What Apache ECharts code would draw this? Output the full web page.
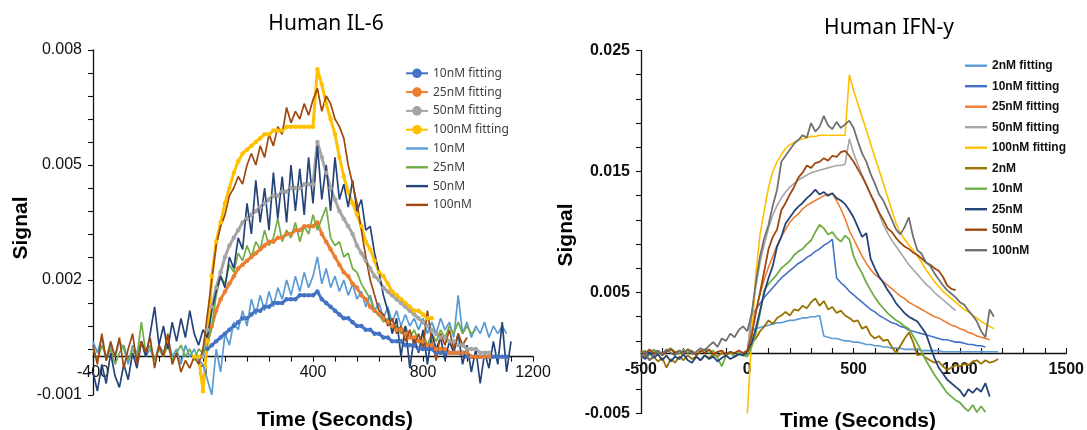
<!DOCTYPE html>
<html><head><meta charset="utf-8">
<script src="https://cdn.jsdelivr.net/npm/echarts@6/dist/echarts.min.js"></script>
<style>
html,body{margin:0;padding:0;background:#fff;width:1087px;height:430px;overflow:hidden}
#l{position:absolute;left:0;top:0;width:560px;height:430px}
#r{position:absolute;left:540px;top:0;width:547px;height:430px}
</style>
</head><body><div id="l"></div><div id="r"></div>
<script>
// ---------------- LEFT: Human IL-6 ----------------
const tL = [-400,-384,-368,-352,-336,-320,-304,-288,-272,-256,-240,-224,-208,-192,-176,-160,-144,-128,-112,-96,-80,-64,-48,-32,-16,0,16,32,48,64,80,96,112,128,144,160,176,192,208,224,240,256,272,288,304,320,336,352,368,384,400,416,432,448,464,480,496,512,528,544,560,576,592,608,624,640,656,672,688,704,720,736,752,768,784,800,816,832,848,864,880,896,912,928,944,960,976,992,1008,1024,1040,1056,1072,1088,1104,1120];
const xTicksL = [-400, 0, 400, 800, 1200];
const yTicksL = [-0.001, 0.002, 0.005, 0.008];
const namesFitL = ['10nM fitting','25nM fitting','50nM fitting','100nM fitting'];
const namesRawL = ['10nM','25nM','50nM','100nM'];

// fittings (start at t=0 except 100nM which starts at t=-32)
const fit10L = [0.0000,0.0002,0.0003,0.0004,0.0005,0.0006,0.0007,0.0008,0.0009,0.0010,
 0.0010,0.0011,0.0012,0.0012,0.0013,0.0013,0.0014,0.0014,0.0014,0.0015,
 0.0015,0.0015,0.0016,0.0016,0.0016,0.0016,0.0017,0.0015,0.0014,0.0013,
 0.0012,0.0011,0.0010,0.0010,0.0009,0.0008,0.0008,0.0007,0.0007,0.0006,
 0.0006,0.0005,0.0005,0.0004,0.0004,0.0004,0.0003,0.0003,0.0003,0.0002,
 0.0002,0.0002,0.0002,0.0001,0.0001,0.0001,0.0001,0.0001,0.0001,0.0001,
 0.0000,0.0000,0.0000,0.0000,0.0000,0.0000,0.0000,0.0000,0.0000,0.0000];
const fit25L = [0.0000,0.0004,0.0008,0.0012,0.0015,0.0017,0.0019,0.0021,0.0023,0.0024,
 0.0025,0.0026,0.0027,0.0028,0.0029,0.0030,0.0030,0.0031,0.0031,0.0032,
 0.0032,0.0033,0.0033,0.0034,0.0034,0.0034,0.0035,0.0032,0.0030,0.0028,
 0.0026,0.0024,0.0022,0.0021,0.0019,0.0018,0.0016,0.0015,0.0013,0.0012,
 0.0011,0.0010,0.0009,0.0008,0.0007,0.0007,0.0006,0.0005,0.0005,0.0004,
 0.0004,0.0003,0.0003,0.0002,0.0002,0.0002,0.0001,0.0001,0.0001,0.0001,
 0.0001,0.0000,0.0000,0.0000,0.0000,0.0000];
const fit50L = [0.0000,0.0007,0.0013,0.0018,0.0022,0.0026,0.0029,0.0031,0.0033,0.0035,
 0.0036,0.0037,0.0038,0.0039,0.0040,0.0041,0.0042,0.0042,0.0043,0.0043,
 0.0044,0.0044,0.0044,0.0045,0.0045,0.0045,0.0056,0.0052,0.0048,0.0044,
 0.0041,0.0038,0.0036,0.0034,0.0032,0.0029,0.0027,0.0025,0.0023,0.0021,
 0.0020,0.0018,0.0017,0.0016,0.0015,0.0014,0.0013,0.0012,0.0011,0.0010,
 0.0009,0.0008,0.0007,0.0006,0.0005,0.0005,0.0004,0.0004,0.0003,0.0003,
 0.0002,0.0002,0.0002,0.0001,0.0001,0.0001];
const fit100L = [0,0,
 -0.0009,0.0004,0.0021,0.0030,0.0035,0.0040,0.0044,0.0048,0.0051,0.0053,
 0.0054,0.0055,0.0056,0.0057,0.0058,0.0058,0.0059,0.0059,0.0059,0.0060,
 0.0060,0.0060,0.0060,0.0060,0.0060,0.0060,0.0075,0.0071,0.0066,0.0062,
 0.0058,0.0052,0.0047,0.0043,0.0040,0.0037,0.0034,0.0030,0.0028,0.0025,
 0.0022,0.0021,0.0019,0.0017,0.0016,0.0015,0.0014,0.0013,0.0012,0.0012,
 0.0011,0.0010,0.0010];
// raw traces (start at t=-400)
const raw10L = [0.0004,0.0001,0.0005,-0.0001,0.0003,0.0000,0.0004,0.0002,-0.0002,0.0003,0.0001,0.0004,0.0000,0.0002,-0.0001,0.0003,0.0001,0.0005,0.0000,0.0002,-0.0002,0.0003,0.0000,0.0002,-0.0001,
 -0.0002,-0.0006,-0.0010,0.0002,-0.0004,0.0006,0.0003,0.0009,0.0007,0.0012,
 0.0008,0.0015,0.0011,0.0016,0.0012,0.0017,0.0013,0.0018,0.0015,0.0020,
 0.0016,0.0021,0.0017,0.0022,0.0018,0.0021,0.0026,0.0019,0.0023,0.0018,
 0.0021,0.0017,0.0020,0.0016,0.0019,0.0015,0.0017,0.0013,0.0016,0.0012,
 0.0014,0.0010,0.0013,0.0009,0.0012,0.0008,0.0011,0.0008,0.0010,0.0007,
 0.0010,0.0006,0.0009,0.0006,0.0010,0.0007,0.0009,0.0005,0.0016,0.0006,
 0.0009,0.0005,0.0008,0.0006,0.0009,0.0005,0.0008,0.0006,0.0008,0.0006];
const raw25L = [0.0002,-0.0001,0.0003,0.0000,0.0002,-0.0002,0.0001,0.0003,-0.0001,0.0002,0.0000,0.0009,0.0001,0.0003,-0.0001,0.0002,0.0000,0.0003,-0.0001,0.0001,0.0003,0.0000,0.0002,-0.0001,0.0002,
 0.0001,0.0003,0.0008,0.0016,0.0021,0.0019,0.0024,0.0022,0.0027,0.0025,
 0.0029,0.0026,0.0030,0.0028,0.0033,0.0029,0.0031,0.0036,0.0030,0.0033,
 0.0031,0.0035,0.0030,0.0034,0.0032,0.0037,0.0033,0.0036,0.0039,0.0031,
 0.0029,0.0030,0.0026,0.0027,0.0023,0.0022,0.0019,0.0017,0.0015,0.0012,
 0.0011,0.0009,0.0010,0.0007,0.0008,0.0006,0.0008,0.0005,0.0007,0.0004,
 0.0006,0.0003,0.0006,0.0004,0.0007,0.0005,0.0008,0.0006,0.0009,0.0006,
 0.0008,0.0006,0.0007];
const raw50L = [-0.0004,-0.0009,-0.0002,-0.0007,0.0001,-0.0005,-0.0008,-0.0002,-0.0006,0.0001,-0.0003,0.0004,0.0000,0.0006,0.0013,0.0003,0.0008,0.0002,0.0009,0.0004,0.0010,0.0005,0.0012,0.0006,0.0003,
 0.0007,0.0005,0.0012,0.0017,0.0021,0.0018,0.0026,0.0023,0.0031,0.0028,
 0.0040,0.0032,0.0046,0.0035,0.0044,0.0033,0.0048,0.0036,0.0047,0.0035,
 0.0050,0.0038,0.0049,0.0037,0.0052,0.0040,0.0055,0.0041,0.0050,0.0038,
 0.0052,0.0041,0.0045,0.0039,0.0046,0.0038,0.0041,0.0033,0.0034,0.0027,
 0.0022,0.0016,0.0012,0.0006,0.0010,0.0000,0.0008,-0.0003,0.0005,0.0001,
 0.0007,-0.0002,0.0006,0.0002,0.0005,-0.0001,0.0004,0.0001,0.0006,-0.0002,
 0.0003,-0.0004,0.0002,-0.0007,0.0001,-0.0003,0.0004,-0.0002,0.0009,-0.0004,0.0004];
const raw100L = [0.0003,-0.0002,0.0006,-0.0001,0.0004,0.0000,0.0005,-0.0003,0.0002,0.0006,-0.0002,0.0004,0.0001,0.0005,-0.0003,0.0003,0.0000,0.0006,-0.0002,0.0001,-0.0004,-0.0001,-0.0003,0.0000,-0.0002,
 0.0002,0.0011,0.0020,0.0029,0.0034,0.0037,0.0042,0.0044,0.0047,0.0045,
 0.0050,0.0053,0.0050,0.0055,0.0052,0.0058,0.0055,0.0060,0.0058,0.0065,
 0.0061,0.0064,0.0062,0.0066,0.0063,0.0067,0.0070,0.0064,0.0068,0.0066,
 0.0062,0.0060,0.0057,0.0050,0.0045,0.0040,0.0033,0.0026,0.0020,0.0016,
 0.0012,0.0011,0.0008,0.0010,0.0006,0.0008,0.0004,0.0007,0.0003,0.0006,
 0.0002,0.0012,0.0004,-0.0001,0.0006,0.0003,0.0007,0.0002,0.0006,0.0003,0.0005];

// ---------------- RIGHT: Human IFN-y ----------------
const tR = [-500,-480,-460,-440,-420,-400,-380,-360,-340,-320,-300,-280,-260,-240,-220,-200,-180,-160,-140,-120,-100,-80,-60,-40,-20,0,20,40,60,80,100,120,140,160,180,200,220,240,260,280,300,320,340,360,380,400,420,440,460,480,500,520,540,560,580,600,620,640,660,680,700,720,740,760,780,800,820,840,860,880,900,920,940,960,980,1000,1020,1040,1060,1080,1100,1120,1140,1160,1180,1200];
const xTicksR = [-500, 0, 500, 1000, 1500];
const yTicksR = [-0.005, 0.005, 0.015, 0.025];
const namesR = ['2nM fitting','10nM fitting','25nM fitting','50nM fitting','100nM fitting','2nM','10nM','25nM','50nM','100nM'];
// fittings (start at t=0)
const fit2R = [0.0000,0.0019,0.0020,0.0021,0.0022,0.0023,0.0024,0.0025,0.0025,0.0026,
 0.0027,0.0027,0.0028,0.0029,0.0029,0.0030,0.0030,0.0031,0.0014,0.0013,
 0.0012,0.0012,0.0011,0.0010,0.0010,0.0009,0.0009,0.0008,0.0007,0.0007,
 0.0006,0.0006,0.0005,0.0005,0.0004,0.0004,0.0004,0.0003,0.0003,0.0003,
 0.0003,0.0002,0.0002,0.0002,0.0002,0.0002,0.0001,0.0001,0.0001,0.0001,
 0.0001,0.0001,0.0001,0.0001,0.0001,0.0001,0.0001,0.0001,0.0001,0.0001];
const fit10R = [0.0000,0.0031,0.0036,0.0041,0.0046,0.0050,0.0054,0.0058,0.0062,0.0065,
 0.0068,0.0071,0.0074,0.0076,0.0079,0.0081,0.0084,0.0086,0.0089,0.0091,
 0.0094,0.0062,0.0058,0.0055,0.0051,0.0048,0.0045,0.0042,0.0039,0.0036,
 0.0034,0.0031,0.0029,0.0027,0.0025,0.0024,0.0022,0.0021,0.0019,0.0018,
 0.0017,0.0016,0.0015,0.0014,0.0013,0.0012,0.0011,0.0011,0.0010,0.0009,
 0.0009,0.0008,0.0007,0.0007,0.0006,0.0006,0.0005];
const fit25R = [0.0000,0.0019,0.0035,0.0049,0.0061,0.0071,0.0080,0.0089,0.0096,0.0102,
 0.0108,0.0112,0.0115,0.0119,0.0122,0.0124,0.0126,0.0128,0.0130,0.0131,
 0.0132,0.0126,0.0119,0.0111,0.0101,0.0094,0.0087,0.0080,0.0074,0.0069,
 0.0065,0.0062,0.0059,0.0056,0.0053,0.0050,0.0047,0.0045,0.0042,0.0040,
 0.0038,0.0036,0.0034,0.0032,0.0030,0.0029,0.0027,0.0025,0.0023,0.0022,
 0.0020,0.0019,0.0017,0.0016,0.0014,0.0013,0.0012,0.0011];
const fit50R = [0.0000,0.0030,0.0055,0.0075,0.0090,0.0103,0.0114,0.0122,0.0128,0.0133,
 0.0137,0.0140,0.0143,0.0145,0.0147,0.0149,0.0150,0.0151,0.0152,0.0153,
 0.0154,0.0155,0.0155,0.0156,0.0177,0.0165,0.0156,0.0147,0.0139,0.0131,
 0.0123,0.0115,0.0106,0.0099,0.0093,0.0088,0.0083,0.0078,0.0073,0.0069,
 0.0065,0.0061,0.0057,0.0054,0.0050,0.0047,0.0044,0.0041,0.0038,0.0035];
const fit100R = [-0.0050,0.0010,0.0065,0.0098,0.0118,0.0137,0.0150,0.0158,0.0164,0.0169,
 0.0172,0.0174,0.0176,0.0177,0.0178,0.0179,0.0179,0.0180,0.0180,0.0180,
 0.0180,0.0180,0.0180,0.0180,0.0230,0.0217,0.0206,0.0195,0.0184,0.0173,
 0.0162,0.0151,0.0140,0.0129,0.0118,0.0107,0.0099,0.0094,0.0089,0.0085,
 0.0080,0.0075,0.0069,0.0064,0.0059,0.0055,0.0051,0.0048,0.0045,0.0042,
 0.0039,0.0036,0.0034,0.0031,0.0029,0.0026,0.0024,0.0022,0.0020];
// raw traces (start at t=-500)
const raw2R = [-0.0004,-0.0002,-0.0006,-0.0003,-0.0007,-0.0004,-0.0012,-0.0005,-0.0008,-0.0003,-0.0006,-0.0002,-0.0005,-0.0003,-0.0006,-0.0002,-0.0004,-0.0001,-0.0003,0.0000,-0.0002,0.0001,-0.0003,-0.0001,0.0000,
 -0.0002,0.0008,0.0012,0.0018,0.0022,0.0027,0.0024,0.0029,0.0031,0.0034,
 0.0031,0.0036,0.0035,0.0039,0.0037,0.0042,0.0045,0.0039,0.0043,0.0036,
 0.0038,0.0033,0.0035,0.0031,0.0029,0.0026,0.0027,0.0020,0.0022,0.0015,
 0.0012,0.0014,0.0010,0.0011,0.0005,0.0000,0.0006,0.0012,0.0017,0.0009,
 -0.0002,-0.0001,-0.0004,-0.0006,-0.0008,-0.0007,-0.0011,-0.0014,-0.0012,-0.0010,
 -0.0011,-0.0009,-0.0010,-0.0007,-0.0006,-0.0009,-0.0006,-0.0008,-0.0007,-0.0005];
const raw10R = [0.0000,0.0002,-0.0002,0.0003,0.0000,-0.0001,0.0002,0.0004,0.0001,-0.0001,0.0003,0.0000,0.0002,-0.0002,0.0001,0.0003,0.0000,0.0002,-0.0004,-0.0011,-0.0002,0.0001,-0.0003,0.0000,-0.0002,
 -0.0003,0.0005,0.0016,0.0033,0.0052,0.0057,0.0061,0.0065,0.0070,0.0073,
 0.0076,0.0081,0.0084,0.0086,0.0090,0.0093,0.0100,0.0106,0.0103,0.0098,
 0.0100,0.0095,0.0092,0.0097,0.0094,0.0080,0.0072,0.0066,0.0058,0.0052,
 0.0046,0.0041,0.0037,0.0033,0.0030,0.0027,0.0025,0.0022,0.0020,0.0014,
 0.0008,0.0001,-0.0006,-0.0012,-0.0018,-0.0023,-0.0028,-0.0033,-0.0036,-0.0039,
 -0.0041,-0.0045,-0.0048,-0.0043,-0.0049,-0.0044,-0.0049];
const raw25R = [-0.0002,-0.0005,0.0001,-0.0004,-0.0001,-0.0006,-0.0002,-0.0007,-0.0003,-0.0005,-0.0001,-0.0006,-0.0008,-0.0003,-0.0006,-0.0002,-0.0005,-0.0003,-0.0007,-0.0004,-0.0002,-0.0005,-0.0003,-0.0001,-0.0002,
 0.0002,0.0008,0.0020,0.0035,0.0050,0.0062,0.0072,0.0088,0.0096,0.0107,
 0.0112,0.0117,0.0121,0.0124,0.0128,0.0131,0.0135,0.0131,0.0133,0.0130,
 0.0132,0.0128,0.0126,0.0123,0.0118,0.0112,0.0104,0.0096,0.0099,0.0078,
 0.0070,0.0063,0.0058,0.0052,0.0047,0.0041,0.0037,0.0033,0.0030,0.0028,
 0.0026,0.0021,0.0016,0.0006,-0.0004,-0.0012,-0.0017,-0.0022,-0.0025,-0.0028,
 -0.0031,-0.0036,-0.0030,-0.0033,-0.0029,-0.0032,-0.0025,-0.0036];
const raw50R = [0.0002,-0.0001,0.0003,0.0000,0.0002,-0.0002,0.0001,0.0003,0.0000,0.0002,-0.0001,0.0003,0.0001,-0.0002,0.0002,0.0000,0.0003,-0.0001,0.0001,0.0002,-0.0001,0.0001,0.0000,0.0002,0.0000,
 0.0002,0.0014,0.0033,0.0050,0.0068,0.0086,0.0096,0.0102,0.0118,0.0124,
 0.0131,0.0137,0.0145,0.0149,0.0155,0.0153,0.0157,0.0158,0.0161,0.0159,
 0.0163,0.0162,0.0166,0.0167,0.0163,0.0158,0.0152,0.0146,0.0139,0.0131,
 0.0124,0.0116,0.0110,0.0103,0.0100,0.0095,0.0091,0.0088,0.0086,0.0083,
 0.0081,0.0078,0.0075,0.0073,0.0070,0.0068,0.0063,0.0056,0.0053,0.0052];
const raw100R = [-0.0003,0.0001,-0.0006,-0.0002,0.0002,-0.0001,0.0003,0.0000,-0.0002,0.0002,0.0000,0.0003,-0.0001,0.0001,0.0004,0.0002,0.0006,0.0009,0.0005,0.0012,0.0010,0.0016,0.0013,0.0019,0.0022,
 0.0018,0.0032,0.0058,0.0080,0.0095,0.0106,0.0122,0.0135,0.0158,0.0163,
 0.0168,0.0173,0.0176,0.0180,0.0178,0.0190,0.0183,0.0187,0.0196,0.0188,
 0.0185,0.0191,0.0186,0.0189,0.0192,0.0186,0.0175,0.0165,0.0158,0.0148,
 0.0140,0.0131,0.0126,0.0118,0.0110,0.0102,0.0098,0.0104,0.0112,0.0096,
 0.0085,0.0082,0.0075,0.0072,0.0066,0.0061,0.0056,0.0052,0.0049,0.0046,
 0.0042,0.0040,0.0035,0.0031,0.0026,0.0018,0.0013,0.0036,0.0030];

// ---------------- helpers ----------------
function pairs(times, vals, start) { return vals.map((v, i) => [times[start + i], v]); }
const LINE_ICON = 'path://M0,0H24V2.6H0Z';

function axes(o) {
  const lab = {color:'#111', fontSize:16, fontFamily:'Liberation Sans', fontWeight:o.bold?'bold':'normal'};
  const line = {color:'#111', width:1.3};
  const yMin = o.yT[0], yMax = o.yT[o.yT.length-1];
  // move the horizontal axis up so that it crosses the vertical axis at signal 0
  const zeroOffset = -o.gridH * (0 - yMin) / (yMax - yMin);
  return {
    xAxis: {type:'value', min:o.xT[0], max:o.xT[o.xT.length-1], interval:o.xT[1]-o.xT[0],
      position:'bottom', offset:zeroOffset,
      splitLine:{show:false},
      axisLine:{show:true, onZero:false, lineStyle:line},
      axisTick:{show:true, inside:o.xInside, length:5, lineStyle:{color:'#111', width:1.1}},
      minorTick:{show:true, splitNumber:5, length:5, lineStyle:{color:'#111', width:1.1}},
      minorSplitLine:{show:false},
      axisLabel:Object.assign({margin:o.xMargin, showMinLabel:true, showMaxLabel:true,
        formatter:v => String(v)}, lab)},
    yAxis: {type:'value', min:yMin, max:yMax, interval:o.yT[1]-o.yT[0],
      splitLine:{show:false},
      axisLine:{show:true, onZero:false, lineStyle:line},
      axisTick:{show:true, length:5, lineStyle:{color:'#111', width:1.1}},
      minorTick:{show:true, splitNumber:5, length:5, lineStyle:{color:'#111', width:1.1}},
      minorSplitLine:{show:false},
      axisLabel:Object.assign({margin:11, formatter:v => v.toFixed(3)}, lab)}
  };
}
function txt(x, y, s, size, weight, family, rot) {
  return {type:'text', x:x, y:y, rotation:rot||0, silent:true,
    style:{text:s, fontSize:size, fontWeight:weight, fontFamily:family, fill:'#000',
      align:'center', verticalAlign:'middle', textAlign:'center', textVerticalAlign:'middle'}};
}
function fitSeries(name, color, data, dots) {
  return {type:'line', name:name, data:data, color:color,
    symbol:dots?'circle':'none', symbolSize:4.5, showSymbol:!!dots,
    lineStyle:{width:dots?3:1.6, color:color}, itemStyle:{color:color}, silent:true};
}
function rawSeries(name, color, data, w) {
  return {type:'line', name:name, data:data, color:color, symbol:'none', showSymbol:false,
    lineStyle:{width:w, color:color}, itemStyle:{color:color}, silent:true};
}

// ---------------- left chart ----------------
const cL = echarts.init(document.getElementById('l'), null, {renderer:'canvas'});
const axL = axes({xT:xTicksL, yT:yTicksL, bold:false, xInside:false, xMargin:8, gridH:345});
cL.setOption({
  animation:false,
  grid:{left:93, top:50, width:440, height:345},
  xAxis:axL.xAxis, yAxis:axL.yAxis,
  legend:{orient:'vertical', left:400, top:62.3, padding:5, itemWidth:22, itemHeight:12, itemGap:6.8,
    selectedMode:false,
    textStyle:{fontSize:12, fontFamily:'Noto Sans', color:'#404040', lineHeight:12},
    data:namesFitL.concat(namesRawL.map(n => ({name:n, icon:LINE_ICON})))},
  graphic:[
    txt(326, 24, 'Human IL-6', 21, 'normal', 'Noto Sans'),
    txt(21, 228, 'Signal', 21, 'bold', 'Liberation Sans', Math.PI/2),
    txt(335, 420, 'Time (Seconds)', 21, 'bold', 'Liberation Sans')
  ],
  series:[
    fitSeries(namesFitL[0], '#4472C4', pairs(tL, fit10L, 25), true),
    fitSeries(namesFitL[1], '#ED7D31', pairs(tL, fit25L, 25), true),
    fitSeries(namesFitL[2], '#A5A5A5', pairs(tL, fit50L, 25), true),
    fitSeries(namesFitL[3], '#FFC000', pairs(tL, fit100L, 23), true),
    rawSeries(namesRawL[0], '#5B9BD5', pairs(tL, raw10L, 0), 1.7),
    rawSeries(namesRawL[1], '#70AD47', pairs(tL, raw25L, 0), 1.7),
    rawSeries(namesRawL[2], '#264478', pairs(tL, raw50L, 0), 1.7),
    rawSeries(namesRawL[3], '#9E480E', pairs(tL, raw100L, 0), 1.7)
  ]
});

// ---------------- right chart ----------------
const cR = echarts.init(document.getElementById('r'), null, {renderer:'canvas'});
const axR = axes({xT:xTicksR, yT:yTicksR, bold:true, xInside:true, xMargin:9, gridH:363});
cR.setOption({
  animation:false,
  grid:{left:101, top:50.5, width:429, height:363},
  xAxis:axR.xAxis, yAxis:axR.yAxis,
  legend:{orient:'vertical', left:420, top:54.7, padding:5, itemWidth:22, itemHeight:12, itemGap:8.5,
    selectedMode:false, icon:LINE_ICON,
    textStyle:{fontSize:12, fontWeight:'bold', fontFamily:'Liberation Sans', color:'#111', lineHeight:12},
    data:namesR},
  graphic:[
    txt(349, 28, 'Human IFN-y', 21, 'normal', 'Noto Sans'),
    txt(26, 235, 'Signal', 21, 'bold', 'Liberation Sans', Math.PI/2),
    txt(318, 421, 'Time (Seconds)', 21, 'bold', 'Liberation Sans')
  ],
  series:[
    fitSeries(namesR[0], '#5B9BD5', pairs(tR, fit2R, 25), false),
    fitSeries(namesR[1], '#4472C4', pairs(tR, fit10R, 25), false),
    fitSeries(namesR[2], '#ED7D31', pairs(tR, fit25R, 25), false),
    fitSeries(namesR[3], '#A5A5A5', pairs(tR, fit50R, 25), false),
    fitSeries(namesR[4], '#FFC000', pairs(tR, fit100R, 25), false),
    rawSeries(namesR[5], '#997300', pairs(tR, raw2R, 0), 1.8),
    rawSeries(namesR[6], '#70AD47', pairs(tR, raw10R, 0), 1.8),
    rawSeries(namesR[7], '#264478', pairs(tR, raw25R, 0), 1.8),
    rawSeries(namesR[8], '#9E480E', pairs(tR, raw50R, 0), 1.8),
    rawSeries(namesR[9], '#707070', pairs(tR, raw100R, 0), 1.8)
  ]
});
</script>
</body></html>
